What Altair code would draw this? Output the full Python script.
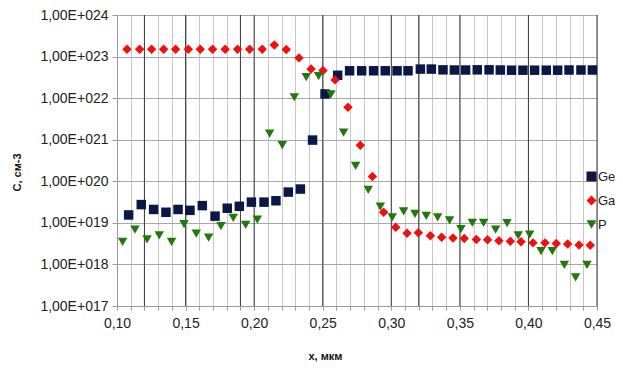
import altair as alt
import pandas as pd

# ---- data ----
series_names = ["Ge", "Ga", "P"]
series_colors = ["#0a1848", "#f01010", "#23780c"]
series_shapes = ["square", "diamond", "triangle-down"]

ge_x = [0.1085, 0.1177, 0.1267, 0.1357, 0.1445, 0.1532, 0.1622, 0.1715, 0.1804, 0.1892,
        0.1980, 0.2072, 0.2159, 0.2249, 0.2337, 0.2426, 0.2517, 0.2609, 0.2696, 0.2784,
        0.2871, 0.2956, 0.3042, 0.3122, 0.3212, 0.3292, 0.3377, 0.3460, 0.3542, 0.3627,
        0.3713, 0.3795, 0.3877, 0.3960, 0.4045, 0.4130, 0.4213, 0.4296, 0.4383, 0.4466]
ge_c = [1.55e19, 2.75e19, 2.1e19, 1.8e19, 2.1e19, 2.0e19, 2.6e19, 1.45e19, 2.25e19, 2.5e19,
        3.15e19, 3.15e19, 3.4e19, 5.5e19, 6.5e19, 9.8e20, 1.26e22, 3.55e22, 4.55e22, 4.55e22,
        4.55e22, 4.55e22, 4.55e22, 4.55e22, 5.0e22, 5.0e22, 4.8e22, 4.75e22, 4.75e22, 4.8e22,
        4.8e22, 4.75e22, 4.7e22, 4.7e22, 4.7e22, 4.7e22, 4.7e22, 4.75e22, 4.75e22, 4.75e22]

ga_x = [0.1073, 0.1165, 0.1252, 0.1340, 0.1427, 0.1520, 0.1607, 0.1697, 0.1789, 0.1879,
        0.1967, 0.2059, 0.2147, 0.2234, 0.2327, 0.2415, 0.2502, 0.2590, 0.2684, 0.2774,
        0.2862, 0.2944, 0.3032, 0.3115, 0.3197, 0.3285, 0.3367, 0.3450, 0.3532, 0.3620,
        0.3702, 0.3785, 0.3868, 0.3946, 0.4033, 0.4121, 0.4203, 0.4286, 0.4369, 0.4451]
ga_c = [1.5e23, 1.5e23, 1.5e23, 1.5e23, 1.5e23, 1.5e23, 1.5e23, 1.5e23, 1.5e23, 1.5e23,
        1.5e23, 1.5e23, 1.9e23, 1.48e23, 9.3e22, 5.0e22, 4.6e22, 2.75e22, 6.0e21, 7.4e20,
        1.3e20, 1.8e19, 7.8e18, 5.6e18, 5.75e18, 4.9e18, 4.5e18, 4.35e18, 4.2e18, 4.0e18,
        3.9e18, 3.7e18, 3.6e18, 3.5e18, 3.3e18, 3.3e18, 3.2e18, 3.1e18, 2.95e18, 2.9e18]

p_x = [0.1041, 0.1131, 0.1219, 0.1308, 0.1398, 0.1489, 0.1578, 0.1668, 0.1758, 0.1848,
       0.1938, 0.2023, 0.2113, 0.2205, 0.2293, 0.2380, 0.2470, 0.2560, 0.2652, 0.2740,
       0.2832, 0.2920, 0.3007, 0.3090, 0.3173, 0.3255, 0.3338, 0.3425, 0.3508, 0.3591,
       0.3673, 0.3761, 0.3844, 0.3926, 0.4009, 0.4092, 0.4174, 0.4262, 0.4344, 0.4427]
p_c = [3.5e18, 6.9e18, 4.0e18, 5.0e18, 3.5e18, 9.3e18, 5.5e18, 4.4e18, 8.3e18, 1.32e19,
       8.9e18, 1.2e19, 1.4e21, 7.4e20, 1.05e22, 3.2e22, 3.4e22, 1.23e22, 1.48e21, 2.35e20,
       6.2e19, 2.45e19, 1.35e19, 1.9e19, 1.65e19, 1.48e19, 1.35e19, 1.15e19, 7.1e18, 1.0e19,
       1.0e19, 6.9e18, 9.8e18, 5.0e18, 5.2e18, 2.1e18, 2.1e18, 9.8e17, 4.9e17, 9.8e17]

x_ticks = [round(0.10 + 0.01 * i, 2) for i in range(36)]
y_ticks = [1e17, 1e18, 1e19, 1e20, 1e21, 1e22, 1e23, 1e24]
dark_grid_x = [0.12, 0.15, 0.19, 0.20, 0.25, 0.30, 0.32, 0.35, 0.40, 0.45]

# ---- tables ----
frames = []
for name, xs, cs in [("Ge", ge_x, ge_c), ("Ga", ga_x, ga_c), ("P", p_x, p_c)]:
    frames.append(pd.DataFrame({"x": xs, "c": cs, "series": name}))
df = pd.concat(frames, ignore_index=True)
grid_df = pd.DataFrame({"x": dark_grid_x})

FONT = "Liberation Sans"

x_scale = alt.Scale(domain=[0.10, 0.45], nice=False, zero=False)
x_axis = alt.Axis(
    values=x_ticks,
    labelExpr="round(datum.value*100) % 5 == 0 ? replace(format(datum.value, '.2f'), '.', ',') : ''",
    title="x, мкм",
    titleFont=FONT, titleFontSize=11, titleFontWeight="bold", titleColor="#111",
    titleX=208, titleY=50, titleBaseline="middle", titleAlign="center",
    labelFont=FONT, labelFontSize=14, labelColor="#222", labelPadding=6,
    labelFlush=False, labelOverlap=False,
    grid=True, gridColor="#c6c6c6", gridWidth=1,
    domainColor="#9a9a9a", tickColor="#9a9a9a", tickSize=4,
)

y_scale = alt.Scale(type="log", domain=[1e17, 1e24], nice=False)
y_axis = alt.Axis(
    values=y_ticks,
    labelExpr="'1,00E+0' + round(log(datum.value)/LN10)",
    title="C, см-3",
    titleFont=FONT, titleFontSize=11, titleFontWeight="bold", titleColor="#111",
    titleX=-100, titleY=157, titleAngle=-90, titleBaseline="middle", titleAlign="center",
    labelFont=FONT, labelFontSize=14, labelColor="#222", labelPadding=4,
    labelFlush=False, labelOverlap=False,
    grid=True, gridColor="#a8a8a8", gridWidth=1,
    domainColor="#9a9a9a", tickColor="#9a9a9a", tickSize=5,
)

legend_opts = dict(title=None, orient="none", legendX=468, legendY=155,
                   labelFont=FONT, labelFontSize=13, labelColor="#222",
                   symbolSize=100, symbolStrokeWidth=0, padding=0,
                   rowPadding=10, labelOffset=0)

rules = alt.Chart(grid_df).mark_rule(color="#3a3a3a", strokeWidth=1).encode(
    x=alt.X("x:Q", scale=x_scale, axis=x_axis)
)

points = alt.Chart(df).mark_point(filled=True, size=90, opacity=1).encode(
    x=alt.X("x:Q", scale=x_scale, axis=x_axis),
    y=alt.Y("c:Q", scale=y_scale, axis=y_axis),
    color=alt.Color("series:N",
                    scale=alt.Scale(domain=series_names, range=series_colors),
                    legend=alt.Legend(**legend_opts)),
    shape=alt.Shape("series:N",
                    scale=alt.Scale(domain=series_names, range=series_shapes),
                    legend=alt.Legend(**legend_opts)),
)

chart = alt.layer(rules, points).properties(
    width=480, height=291,
    autosize=alt.AutoSizeParams(type="none"),
    padding={"left": 109, "top": 7, "right": 18, "bottom": 56},
    background="white",
).configure_view(stroke=None)

chart.save("out.html", embed_options={"renderer": "svg", "actions": False})
